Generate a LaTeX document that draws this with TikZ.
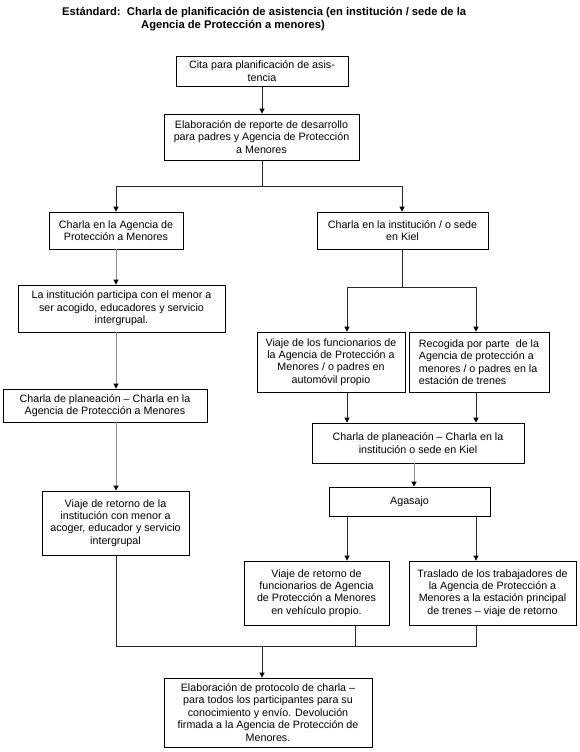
\documentclass[tikz,border=0pt]{standalone}
\usepackage{fontspec}
\setmainfont{Liberation Sans}
\usetikzlibrary{arrows.meta}
\begin{document}
\begin{tikzpicture}[x=1pt,y=-1pt,
  box/.style={draw=black,line width=0.8pt,inner sep=0pt,align=center,
    font=\fontsize{10.7}{12.4}\selectfont},
  conn/.style={draw=black!85,line width=0.8pt},
  gconn/.style={draw=black!45,line width=0.8pt},
  arr/.style={-{Triangle[width=5pt,length=5pt,black]}},
  ttl/.style={anchor=west,inner sep=0pt,font=\fontsize{11.2}{12.4}\selectfont\bfseries}]
\useasboundingbox (0,0) rectangle (580,752);
\fill[white] (0,0) rectangle (580,752);
% title
\node[ttl] (t1) at (62,13) {Estándard:\ \ Charla de planificación de asistencia (en institución / sede de la};
\node[ttl] (t2) at (141,26) {Agencia de Protección a menores)};
% boxes  (corners)
\newcommand{\bx}[6]{\node[box,minimum width={#4-#2},minimum height={#5-#3}] (#1) at ({(#2+#4)/2},{(#3+#5)/2}) {#6};}
\bx{cita}{176}{56}{348}{86}{Cita para planificación de asis-\\tencia}
\bx{elab}{164}{114}{359}{160}{Elaboración de reporte de desarrollo\\para padres y Agencia de Protección\\a Menores}
\bx{agen}{49}{212}{183}{249}{Charla en la Agencia de\\Protección a Menores}
\bx{inst}{317}{212}{488}{249}{Charla en la institución / o sede\\en Kiel}
\bx{part}{18}{285}{225}{332}{La institución participa con el menor a\\ser acogido, educadores y servicio\\intergrupal.}
\bx{viaje}{257}{332}{405}{392}{Viaje de los funcionarios de\\la Agencia de Protección a\\Menores / o padres en\\automóvil propio}
\node[box,align=left,minimum width=140,minimum height=60] (recog) at (479,362) {Recogida por parte\ \ de la\\Agencia de protección a\\menores / o padres en la\\estación de trenes};
\bx{plana}{3}{389}{207}{422}{Charla de planeación – Charla en la\\Agencia de Protección a Menores}
\bx{planb}{312}{423}{524}{463}{Charla de planeación – Charla en la\\institución o sede en Kiel}
\bx{agas}{329}{487}{490}{516}{Agasajo}
\bx{retomo}{42}{491}{189}{555}{Viaje de retorno de la\\institución con menor a\\acoger, educador y servicio\\intergrupal}
\bx{retorno}{244}{561}{389}{625}{Viaje de retorno de\\funcionarios de Agencia\\de Protección a Menores\\en vehículo propio.}
\bx{trasl}{409}{561}{576}{625}{Traslado de los trabajadores de\\la Agencia de Protección a\\Menores a la estación principal\\de trenes – viaje de retorno}
\bx{proto}{164}{678}{372}{747}{Elaboración de protocolo de charla –\\para todos los participantes para su\\conocimiento y envío. Devolución\\firmada a la Agencia de Protección de\\Menores.}
% reference x positions
\coordinate (xa) at (116,0);
\coordinate (xm) at (262,0);
\coordinate (xe) at (402,0);
\coordinate (xb) at (347,0);
\coordinate (xc) at (476,0);
\coordinate (xd) at (414,0);
\coordinate (xf) at (355,0);
% junctions
\coordinate (j1) at (262,186);
\coordinate (j2) at (402,287);
\coordinate (j3) at (262,646);
% connectors
\draw[conn,arr] (xm |- cita.south) -- (xm |- elab.north);
\draw[conn] (xm |- elab.south) -- (j1);
\draw[conn,arr] (j1) -| (xa |- agen.north);
\draw[conn,arr] (j1) -| (xe |- inst.north);
\draw[gconn,arr] (xa |- agen.south) -- (xa |- part.north);
\draw[gconn,arr] (xa |- part.south) -- (xa |- plana.north);
\draw[gconn,arr] (xa |- plana.south) -- (xa |- retomo.north);
\draw[conn] (xe |- inst.south) -- (j2);
\draw[conn,arr] (j2) -| (xb |- viaje.north);
\draw[conn,arr] (j2) -| (xc |- recog.north);
\draw[conn,arr] (xb |- viaje.south) -- (xb |- planb.north);
\draw[conn,arr] (xc |- recog.south) -- (xc |- planb.north);
\draw[gconn,arr] (xd |- planb.south) -- (xd |- agas.north);
\draw[conn,arr] (xb |- agas.south) -- (xb |- retorno.north);
\draw[conn,arr] (xc |- agas.south) -- (xc |- trasl.north);
\draw[conn] (xa |- retomo.south) |- (j3);
\draw[conn] (xc |- trasl.south) |- (j3);
\draw[conn] (xf |- retorno.south) -- (xf |- j3);
\draw[conn,arr] (j3) -- (xm |- proto.north);
\end{tikzpicture}
\end{document}
